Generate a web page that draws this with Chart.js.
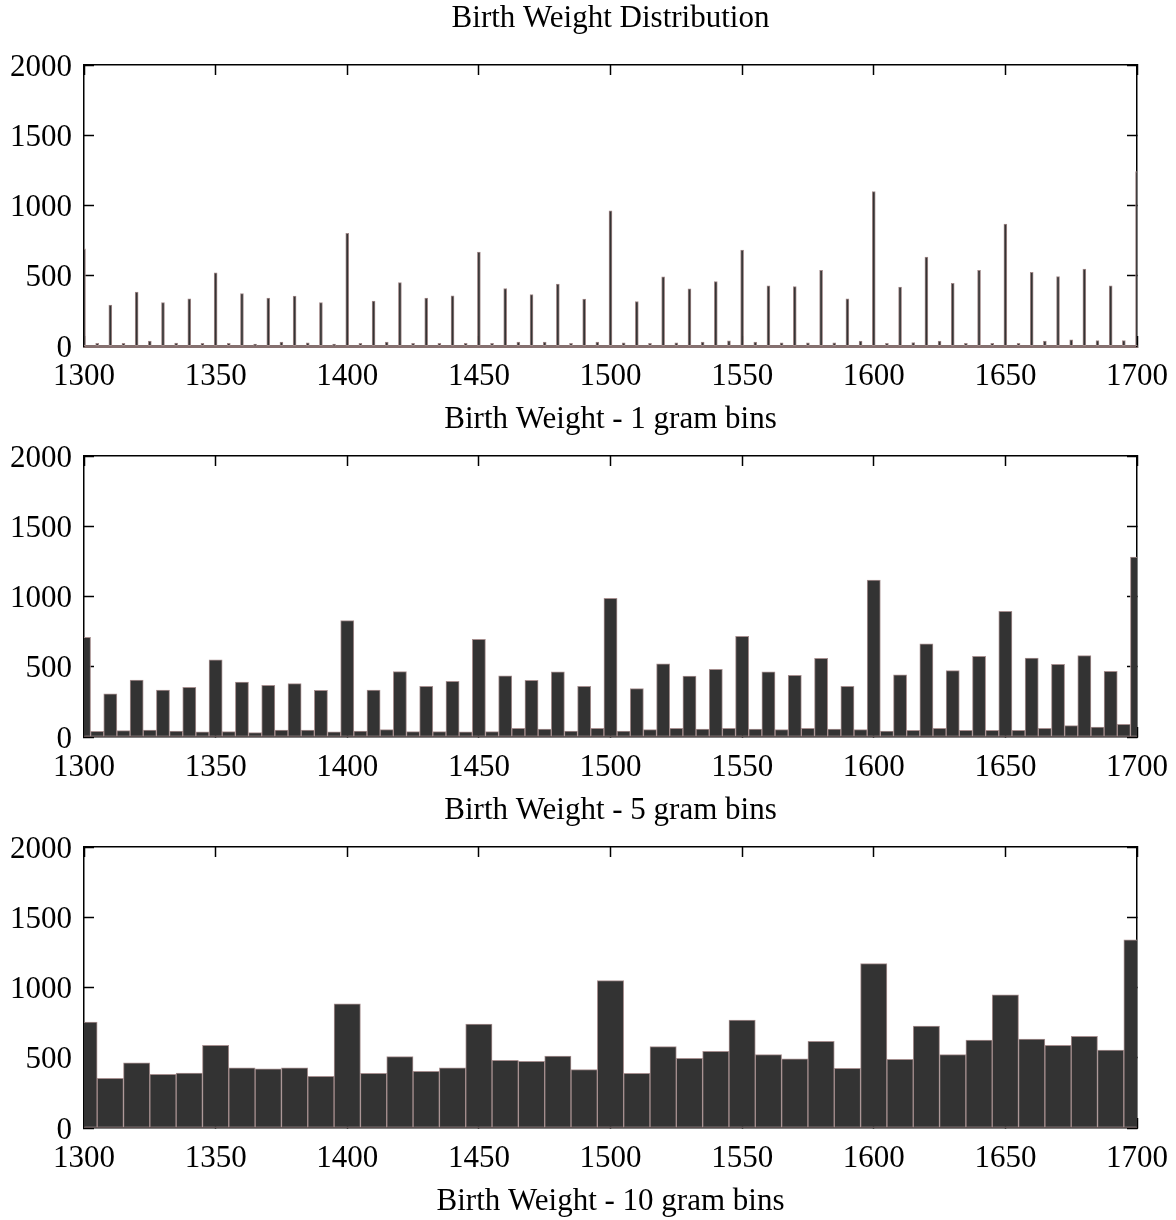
<!DOCTYPE html>
<html>
<head>
<meta charset="utf-8">
<title>Birth Weight Distribution</title>
<script src="https://cdn.jsdelivr.net/npm/chart.js@4.4.1/dist/chart.umd.min.js"></script>
<style>
    html, body { margin: 0; padding: 0; background: #fff; overflow: hidden; }
    #page { position: relative; width: 1176px; height: 1220px; }
    #page canvas { position: absolute; left: 0; }
</style>
</head>
<body>
<div id="page">
    <canvas id="bins1" width="1176" height="440" style="top:0px"></canvas>
    <canvas id="bins5" width="1176" height="440" style="top:391px"></canvas>
    <canvas id="bins10" width="1176" height="440" style="top:782px"></canvas>
</div>
<script>
// bin centres in grams
const centers10 = [1300, 1310, 1320, 1330, 1340, 1350, 1360, 1370, 1380, 1390,
    1400, 1410, 1420, 1430, 1440, 1450, 1460, 1470, 1480, 1490,
    1500, 1510, 1520, 1530, 1540, 1550, 1560, 1570, 1580, 1590,
    1600, 1610, 1620, 1630, 1640, 1650, 1660, 1670, 1680, 1690, 1700];
const centersOdd5 = [1305, 1315, 1325, 1335, 1345, 1355, 1365, 1375, 1385, 1395,
    1405, 1415, 1425, 1435, 1445, 1455, 1465, 1475, 1485, 1495,
    1505, 1515, 1525, 1535, 1545, 1555, 1565, 1575, 1585, 1595,
    1605, 1615, 1625, 1635, 1645, 1655, 1665, 1675, 1685, 1695];
const centers5 = [1300, 1305, 1310, 1315, 1320, 1325, 1330, 1335, 1340, 1345,
    1350, 1355, 1360, 1365, 1370, 1375, 1380, 1385, 1390, 1395,
    1400, 1405, 1410, 1415, 1420, 1425, 1430, 1435, 1440, 1445,
    1450, 1455, 1460, 1465, 1470, 1475, 1480, 1485, 1490, 1495,
    1500, 1505, 1510, 1515, 1520, 1525, 1530, 1535, 1540, 1545,
    1550, 1555, 1560, 1565, 1570, 1575, 1580, 1585, 1590, 1595,
    1600, 1605, 1610, 1615, 1620, 1625, 1630, 1635, 1640, 1645,
    1650, 1655, 1660, 1665, 1670, 1675, 1680, 1685, 1690, 1695, 1700];

// 1 gram bins: counts at the round weights (multiples of 10 and of 5)
const counts1Tens = [690, 290, 382, 308, 335, 520, 372, 339, 354, 308,
    800, 318, 451, 339, 356, 667, 408, 365, 439, 332,
    961, 315, 491, 406, 458, 681, 427, 422, 538, 335,
    1098, 418, 631, 444, 538, 866, 524, 493, 546, 427, 1241];
const counts1Fives = [17, 17, 33, 20, 17, 17, 12, 26, 21, 12,
    17, 26, 17, 17, 17, 17, 26, 26, 17, 26,
    21, 17, 21, 26, 35, 26, 21, 21, 21, 33,
    17, 24, 33, 17, 17, 17, 33, 43, 38, 38];

// 5 gram bins
const counts5 = [709, 40, 308, 45, 406, 50, 334, 43, 354, 36,
    550, 38, 391, 31, 368, 50, 380, 50, 332, 36,
    828, 43, 334, 52, 465, 38, 361, 38, 396, 36,
    695, 38, 436, 62, 403, 57, 463, 43, 361, 62,
    987, 43, 344, 52, 520, 62, 434, 57, 482, 62,
    717, 57, 463, 52, 439, 62, 560, 57, 361, 52,
    1117, 43, 443, 47, 664, 62, 472, 47, 574, 47,
    894, 47, 562, 62, 517, 81, 579, 71, 467, 90, 1281];

// 10 gram bins
const counts10 = [754, 354, 463, 382, 391, 588, 429, 422, 429, 368,
    883, 389, 508, 403, 429, 740, 482, 474, 512, 415,
    1049, 389, 579, 496, 546, 769, 522, 493, 617, 425,
    1170, 489, 726, 522, 626, 947, 633, 588, 652, 555, 1340];

const xTicks = { min: 1300, max: 1700, step: 50 };
const yTicks = { min: 0, max: 2000, step: 500 };

const FONT = "'Liberation Serif', 'Times New Roman', Times, serif";
const FILL = '#333333';

Chart.defaults.font.family = FONT;
Chart.defaults.font.size = 31;
Chart.defaults.color = '#000';

function points(xs, ys) {
    return xs.map(function (x, i) { return { x: x, y: ys[i] }; });
}

function barSet(xs, ys, barPct, edge, inflate) {
    return {
        data: points(xs, ys),
        xAxisID: 'x',
        yAxisID: 'y',
        backgroundColor: FILL,
        borderColor: edge,
        borderWidth: 1,
        borderSkipped: false,
        inflateAmount: inflate,
        grouped: false,
        barPercentage: barPct,
        categoryPercentage: 1,
        clip: 0
    };
}

function inwardGrid() {
    return {
        display: true,
        drawOnChartArea: false,
        drawTicks: true,
        tickLength: -10,
        tickWidth: 1.5,
        tickColor: '#000',
        offset: false
    };
}

function makeChart(id, datasets, xTitle, mainTitle, baseColor, baseWidth) {
    const ctx = document.getElementById(id).getContext('2d');
    const plain = function (v) { return String(v); };

    return new Chart(ctx, {
        type: 'bar',
        data: { datasets: datasets },
        options: {
            responsive: false,
            animation: false,
            events: [],
            layout: {
                padding: { top: mainTitle ? 0 : 65, right: 39, left: 0, bottom: 0 }
            },
            plugins: {
                legend: { display: false },
                tooltip: { enabled: false },
                title: {
                    display: !!mainTitle,
                    text: mainTitle || '',
                    fullSize: false,
                    color: '#000',
                    font: { size: 31, weight: 'normal', lineHeight: 1 },
                    padding: { top: 3, bottom: 31 }
                }
            },
            scales: {
                x: {
                    type: 'linear',
                    position: 'bottom',
                    min: xTicks.min,
                    max: xTicks.max,
                    offset: false,
                    ticks: {
                        stepSize: xTicks.step,
                        padding: 22,
                        maxRotation: 0,
                        autoSkip: false,
                        callback: plain
                    },
                    grid: inwardGrid(),
                    border: { display: true, color: baseColor, width: baseWidth },
                    title: {
                        display: true,
                        text: xTitle,
                        color: '#000',
                        padding: { top: 0, bottom: 2 }
                    },
                    afterFit: function (s) {
                        s.height = 94;
                        // the layout padding already leaves room for the end labels
                        s.paddingLeft = 0;
                        s.paddingRight = 0;
                    }
                },
                xTop: {
                    type: 'linear',
                    position: 'top',
                    min: xTicks.min,
                    max: xTicks.max,
                    offset: false,
                    ticks: { display: false, stepSize: xTicks.step },
                    grid: inwardGrid(),
                    border: { display: true, color: '#000', width: 1.5 },
                    afterFit: function (s) {
                        s.height = 0;
                        s.paddingLeft = 0;
                        s.paddingRight = 0;
                    }
                },
                y: {
                    type: 'linear',
                    position: 'left',
                    min: yTicks.min,
                    max: yTicks.max,
                    ticks: { stepSize: yTicks.step, padding: 22, labelOffset: 2.5, callback: plain },
                    grid: inwardGrid(),
                    border: { display: true, color: '#000', width: 1.5 },
                    afterFit: function (s) { s.width = 84; }
                },
                yRight: {
                    type: 'linear',
                    position: 'right',
                    min: yTicks.min,
                    max: yTicks.max,
                    ticks: { display: false, stepSize: yTicks.step },
                    grid: inwardGrid(),
                    border: { display: true, color: '#000', width: 1.5 },
                    afterFit: function (s) { s.width = 0; }
                }
            }
        }
    });
}

// 1 gram bins: only every 5th gram is listed, so a bar is 1/5 of that spacing
makeChart('bins1', [
    barSet(centers10, counts1Tens, 0.2, '#a08888', 0.5),
    barSet(centersOdd5, counts1Fives, 0.2, '#a08888', 0.5)
], 'Birth Weight - 1 gram bins', 'Birth Weight Distribution', '#85706f', 3);

makeChart('bins5', [barSet(centers5, counts5, 1, '#a68f8f', 'auto')],
    'Birth Weight - 5 gram bins', null, '#000', 1.5);

makeChart('bins10', [barSet(centers10, counts10, 1, '#a68f8f', 'auto')],
    'Birth Weight - 10 gram bins', null, '#000', 1.5);
</script>
</body>
</html>
